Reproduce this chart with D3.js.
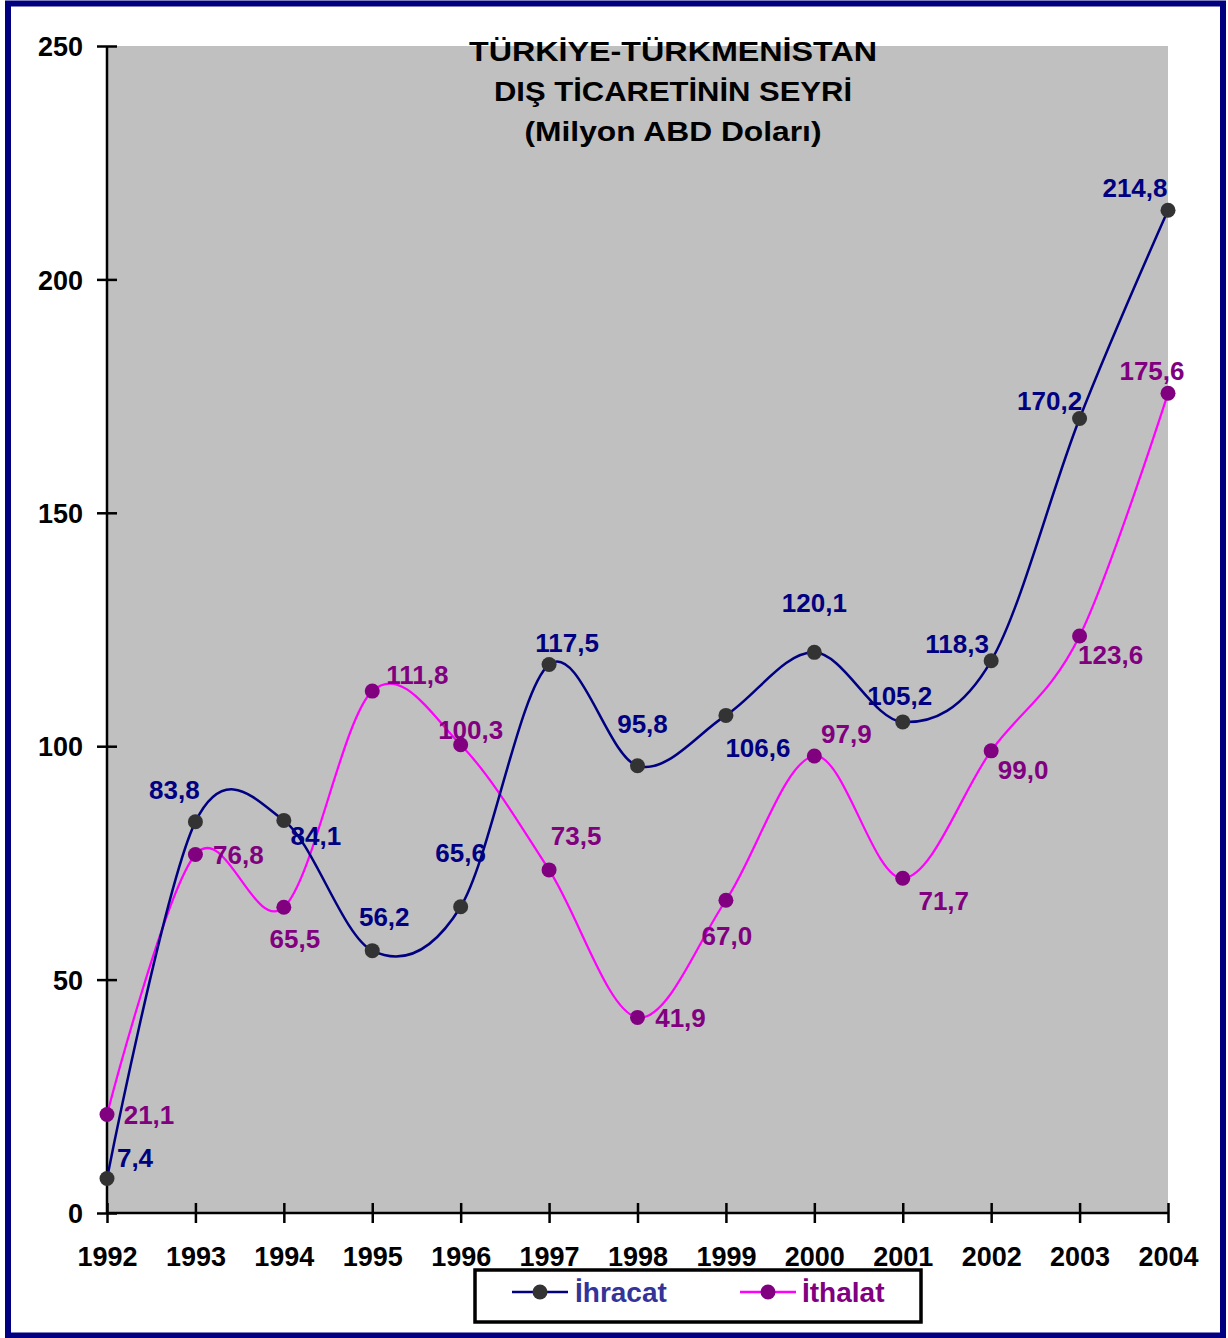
<!DOCTYPE html>
<html><head><meta charset="utf-8">
<script src="https://cdn.jsdelivr.net/npm/d3@7"></script>
<style>body{margin:0;background:#fff}svg{display:block}text{font-family:"Liberation Sans",Arial,sans-serif;font-weight:bold}</style>
</head><body>
<script>
const years = ["1992","1993","1994","1995","1996","1997","1998","1999","2000","2001","2002","2003","2004"];
const ihracat = [7.4, 83.8, 84.1, 56.2, 65.6, 117.5, 95.8, 106.6, 120.1, 105.2, 118.3, 170.2, 214.8];
const ithalat = [21.1, 76.8, 65.5, 111.8, 100.3, 73.5, 41.9, 67.0, 97.9, 71.7, 99.0, 123.6, 175.6];
const yTicks = [0, 50, 100, 150, 200, 250];
const titleLines = ["TÜRKİYE-TÜRKMENİSTAN", "DIŞ TİCARETİNİN SEYRİ", "(Milyon ABD Doları)"];
const seriesNames = ["İhracat", "İthalat"];
// label offsets (layout only): [dx of text centre, dy of baseline]
const ihrOff = [[28,-11],[-21,-23],[32,25],[12,-25],[0,-45],[18,-13],[5,-33],[32,42],[0,-40],[-3,-17],[-34,-8],[-30,-9],[-33,-13]];
const ithOff = [[42,9],[43,10],[11,41],[45,-7],[10,-6],[27,-25],[43,10],[1,45],[32,-13],[41,32],[32,28],[31,28],[-16,-13]];

const W = 1228, H = 1338;
const svg = d3.select("body").append("svg").attr("width", W).attr("height", H);
const x = d3.scalePoint().domain(years).range([107, 1168]);
const y = d3.scaleLinear().domain([0, 250]).range([1213, 46]);

svg.append("rect").attr("x", 107).attr("y", 46).attr("width", 1168-107).attr("height", 1213-46).attr("fill", "#C0C0C0");

// title
const tW = [408, 358, 297];
titleLines.forEach((t, i) => {
  svg.append("text").attr("x", 673).attr("y", 61 + i*40).attr("text-anchor", "middle")
    .attr("font-size", 28).attr("textLength", tW[i]).attr("lengthAdjust", "spacingAndGlyphs").attr("fill", "#000").text(t);
});

// axes
const yAxis = svg.append("g").attr("transform", "translate(107,0)")
  .call(d3.axisLeft(y).tickValues(yTicks).tickSize(10).tickPadding(14).tickFormat(d3.format("d")));
yAxis.selectAll(".tick line").attr("x1", 10).attr("x2", -10);
const xAxis = svg.append("g").attr("transform", "translate(0,1213)")
  .call(d3.axisBottom(x).tickSize(10).tickPadding(24));
xAxis.selectAll(".tick line").attr("y1", -10).attr("y2", 10);
[yAxis, xAxis].forEach(g => {
  g.select(".domain").attr("stroke", "#000").attr("stroke-width", 2.5);
  g.selectAll(".tick line").attr("stroke", "#000").attr("stroke-width", 2.5);
  g.selectAll("text").attr("font-size", 27).attr("fill", "#000").style("font-family", '"Liberation Sans",Arial,sans-serif').style("font-weight", "bold");
});
yAxis.select(".domain").attr("d", "M0,1213V46");
xAxis.select(".domain").attr("d", "M107,0H1168");
yAxis.selectAll(".tick text").attr("dy", "0.36em").attr("x", -24);
xAxis.selectAll(".tick text").attr("dy", "0.71em");

const line = d3.line().x((d, i) => x(years[i])).y(d => y(d)).curve(d3.curveCardinal.tension(0));
const series = [
  {vals: ihracat, stroke: "#000080", sw: 2.5, fill: "#333333", lab: "#000080", off: ihrOff},
  {vals: ithalat, stroke: "#FF00FF", sw: 2.2, fill: "#800080", lab: "#800080", off: ithOff}
];
[series[1], series[0]].forEach(s => {
  svg.append("path").datum(s.vals).attr("d", line).attr("fill", "none").attr("stroke", s.stroke).attr("stroke-width", s.sw);
});
series.forEach(s => {
  svg.append("g").selectAll("circle").data(s.vals).join("circle")
    .attr("cx", (d, i) => x(years[i])).attr("cy", d => y(d)).attr("r", 7.5).attr("fill", s.fill);
});
series.forEach(s => {
  svg.append("g").selectAll("text").data(s.vals).join("text")
    .attr("x", (d, i) => x(years[i]) + s.off[i][0]).attr("y", (d, i) => y(d) + s.off[i][1])
    .attr("text-anchor", "middle").attr("font-size", 26).attr("fill", s.lab)
    .text(d => d.toFixed(1).replace(".", ","));
});

// legend
const lg = svg.append("g");
lg.append("rect").attr("x", 475).attr("y", 1270).attr("width", 446).attr("height", 52).attr("fill", "#fff").attr("stroke", "#000").attr("stroke-width", 3.5);
const legItems = [
  {name: seriesNames[0], x1: 512, stroke: "#000080", fill: "#333333", tc: "#333399", tx: 575},
  {name: seriesNames[1], x1: 740, stroke: "#FF00FF", fill: "#800080", tc: "#800080", tx: 802}
];
legItems.forEach(l => {
  lg.append("line").attr("x1", l.x1).attr("x2", l.x1 + 56).attr("y1", 1292).attr("y2", 1292).attr("stroke", l.stroke).attr("stroke-width", 2.5);
  lg.append("circle").attr("cx", l.x1 + 28).attr("cy", 1292).attr("r", 7.5).attr("fill", l.fill);
  lg.append("text").attr("x", l.tx).attr("y", 1302).attr("font-size", 28).attr("fill", l.tc).text(l.name);
});

// outer border
svg.append("rect").attr("x", 8).attr("y", 3.5).attr("width", 1215).attr("height", 1332).attr("fill", "none").attr("stroke", "#000080").attr("stroke-width", 6);
</script>
</body></html>
